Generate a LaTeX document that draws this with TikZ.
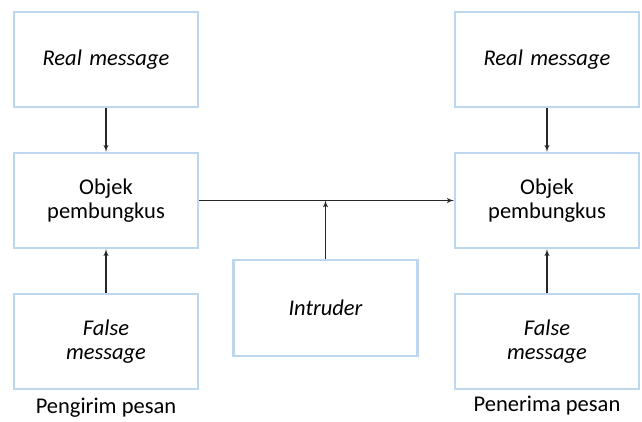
\documentclass[tikz,border=0pt]{standalone}
\usepackage{fontspec}
\setmainfont{Carlito}
\usetikzlibrary{shapes,arrows}
\definecolor{boxblue}{RGB}{189,215,238}
\tikzstyle{block} = [rectangle, draw=boxblue, line width=2.4pt, fill=white,
    text width=170pt, align=center, minimum width=184pt, minimum height=95pt,
    inner sep=0pt, font=\fontsize{22.5pt}{24.5pt}\selectfont]
\tikzstyle{caption} = [font=\fontsize{22.5pt}{24.5pt}\selectfont, inner sep=0pt]
\tikzstyle{line} = [draw, black!85, line width=1.3pt, -latex']

\begin{document}
\begin{tikzpicture}[x=1pt, y=-1pt, node distance=141pt]
    \useasboundingbox (0,0) rectangle (642,421);
    % Place nodes
    \node [block] at (106,59.5) (realA) {\itshape Real message};
    \node [block, below of=realA] (objekA) {Objek\\pembungkus};
    \node [block, below of=objekA] (falseA) {\itshape False\\message};
    \node [caption, below of=falseA, node distance=66pt] (sender) {Pengirim pesan};
    \node [block, right of=realA, node distance=441pt] (realB) {\itshape Real message};
    \node [block, below of=realB] (objekB) {Objek\\pembungkus};
    \node [block, below of=objekB] (falseB) {\itshape False\\message};
    \node [caption, below of=falseB, node distance=64.5pt] (receiver) {Penerima pesan};
    \node [block, minimum height=96pt] at (325.5,308) (intruder) {\itshape Intruder};
    \coordinate (tap) at (intruder.north |- objekA.east);
    % Draw edges
    \path [line] (realA) -- (objekA);
    \path [line] (falseA) -- (objekA);
    \path [line] (realB) -- (objekB);
    \path [line] (falseB) -- (objekB);
    \path [line] (objekA) -- (objekB);
    \path [line] (intruder) -- (tap);
\end{tikzpicture}
\end{document}
